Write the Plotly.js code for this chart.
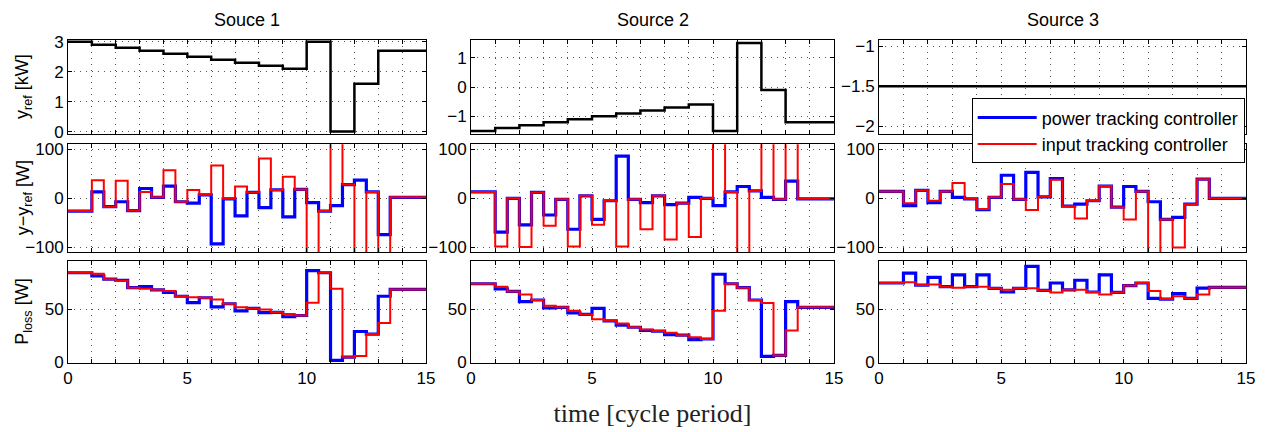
<!DOCTYPE html>
<html>
<head>
<meta charset="utf-8">
<script src="https://cdn.plot.ly/plotly-3.0.1.min.js"></script>
<style>
html,body{margin:0;padding:0;background:#fff;}
#chart{width:1265px;height:432px;}
</style>
</head>
<body>
<div id="chart"></div>
<script>
// ---------------- data ----------------
const sourceTitles = ["Souce 1", "Source 2", "Source 3"];
const tPeriod = [0,1,2,3,4,5,6,7,8,9,10,11,12,13,14,15];
const tHalf = [0,0.5,1,1.5,2,2.5,3,3.5,4,4.5,5,5.5,6,6.5,7,7.5,8,8.5,9,9.5,10,10.5,11,11.5,12,12.5,13,13.5,14,14.5,15];
const xTickVals = [0,5,10,15];
const xTickLabels = ["0","5","10","15"];

// reference power [kW], one value per cycle period
const yref1 = [3.0,2.9,2.8,2.7,2.6,2.5,2.4,2.3,2.2,2.1,3.0,0.0,1.6,2.7,2.7];
const yref2 = [-1.5,-1.4,-1.3,-1.2,-1.1,-1.0,-0.9,-0.8,-0.7,-0.6,-1.5,1.5,-0.1,-1.2,-1.2];
const yref3 = [-1.5,-1.5,-1.5,-1.5,-1.5,-1.5,-1.5,-1.5,-1.5,-1.5,-1.5,-1.5,-1.5,-1.5,-1.5];

// tracking error y - y_ref [W], one value per half period
const err1Power = [-26,-26,13,-17,-7,-25,20,2,25,-7,-10,7,-93,-1,-36,12,-19,17,-38,18,-9,-26,-15,28,37,13,-74,2,2,2];
const err1Input = [-26,-26,37,-17,36,-25,13,2,57,-7,17,7,67,-1,24,12,81,17,44,18,-900,-26,3000,28,-1600,13,-1100,2,2,2];
const err2Power = [13,13,-69,0,-54,12,-34,-2,-63,5,-43,-5,86,-2,-9,5,-13,-10,2,0,-15,13,24,15,2,-2,35,-1,-1,-1];
const err2Input = [13,13,-98,0,-99,12,-56,-2,-98,5,-54,-5,-98,-2,-63,5,-84,-10,-79,0,900,13,-3000,15,1600,-2,1100,-1,-1,-1];
const err3Power = [14,14,-15,16,-9,14,2,-1,-23,2,47,-2,53,3,40,-16,-12,-5,25,-18,24,14,-7,-43,-39,-12,39,0,0,0];
const err3Input = [14,14,-10,16,-5,14,31,-1,-22,2,29,-2,-24,3,38,-16,-41,-5,25,-18,-43,14,-300,-43,-100,-12,39,0,0,0];

// power loss P_loss [W], one value per half period
const loss1Power = [84,84,81,78,77,70,71,68,65.6,62,56,60.6,52,55,48.4,50.6,46.6,47,42.8,44,86,84,2,5,29,26.6,62,68.4,68.4,68.4];
const loss1Input = [84,84,83,78,76.5,70,69,68,67,62,61,60.6,59,55,51.6,50.6,49.7,47,45.3,44,56,84,69,5,6,26.6,37,68.4,68.4,68.4];
const loss2Power = [73.7,73.7,69,66.5,57,58.5,51,51.6,46.5,45,50.6,39,35,33,30,29.4,26,25.6,21.5,22,82.6,73.7,70,58.5,5.7,6.6,57,51.6,51.6,51.6];
const loss2Input = [73.7,73.7,71,66.5,63.6,58.5,53,51.6,48.4,45,40.5,39,36.4,33,31,29.4,27.8,25.6,23.7,22,48.4,73.7,70,58.5,55.7,6.6,30,51.6,51.6,51.6];
const loss3Power = [74.4,74.4,83.7,72.5,79.7,71,82,71,82,69.4,66,69.4,90,67.5,74.4,68,77,66,82,65.6,72,74.4,60,59.4,64.4,60,69.7,70.3,70.3,70.3];
const loss3Input = [74.4,74.4,75,72.5,73,71,70,71,71,69.4,68,69.4,69.4,67.5,65.6,68,68,66,63.7,65.6,72,74.4,67,59.4,62,60,63.7,70.3,70.3,70.3];

const seriesNames = ["power tracking controller", "input tracking controller"];
const yTitles = ["y<sub>ref</sub> [kW]", "y\u2212y<sub>ref</sub> [W]", "P<sub>loss</sub> [W]"];
const xTitle = "time [cycle period]";

// ---------------- layout helpers ----------------
const W = 1265, H = 432;
const colPx = [[68,426],[471,834],[879,1246]];
const rowPx = [[40,134],[144.3,252.3],[261,362.5]];
const xdom = c => [colPx[c][0]/W, colPx[c][1]/W];
const ydom = r => [1 - rowPx[r][1]/H, 1 - rowPx[r][0]/H];

const FONT = "Liberation Sans, Arial, Helvetica, sans-serif";
const BLUE = "#0000ff", RED = "#ff0000";

const yrefs = [yref1, yref2, yref3];
const errs = [[err1Power, err1Input],[err2Power, err2Input],[err3Power, err3Input]];
const losses = [[loss1Power, loss1Input],[loss2Power, loss2Input],[loss3Power, loss3Input]];

const hold = a => a.concat([a[a.length-1]]);
const axId = (r,c) => (r*3 + c + 1);
const sfx = n => (n === 1 ? "" : String(n));

const traces = [];
for (let c = 0; c < 3; c++) {
  const n1 = axId(0,c), n2 = axId(1,c), n3 = axId(2,c);
  traces.push({x: tPeriod, y: hold(yrefs[c]), type: "scatter", mode: "lines",
    line: {shape: "hv", color: "#000", width: 2.5}, xaxis: "x"+sfx(n1), yaxis: "y"+sfx(n1),
    showlegend: false, name: "y_ref"});
  [[errs[c], n2], [losses[c], n3]].forEach(([pair, n], k) => {
    traces.push({x: tHalf, y: hold(pair[0]), type: "scatter", mode: "lines",
      line: {shape: "hv", color: BLUE, width: 3.2}, xaxis: "x"+sfx(n), yaxis: "y"+sfx(n),
      name: seriesNames[0], legendgroup: "p", showlegend: (c===0 && k===0)});
    traces.push({x: tHalf, y: hold(pair[1]), type: "scatter", mode: "lines",
      line: {shape: "hv", color: RED, width: 2}, xaxis: "x"+sfx(n), yaxis: "y"+sfx(n),
      name: seriesNames[1], legendgroup: "i", showlegend: (c===0 && k===0)});
  });
}

const yRanges = [
  [[-0.08,3.06],[-1.6,1.6],[-2.1,-0.92]],
  [[-110,110],[-110,110],[-110,110]],
  [[0,95],[0,95],[0,95]]
];
const yTicks = [
  [[0,1,2,3],[-1,0,1],[-2,-1.5,-1]],
  [[-100,0,100],[-100,0,100],[-100,0,100]],
  [[0,50],[0,50],[0,50]]
];

const GRID = {gridcolor: "#555", gridwidth: 1, griddash: "1px,5px"};

const layout = {
  width: W, height: H,
  margin: {l:0, r:0, t:0, b:0},
  paper_bgcolor: "#fff", plot_bgcolor: "#fff",
  font: {family: FONT, size: 17, color: "#000"},
  showlegend: true,
  legend: {x: 971.7/W, y: 1 - 98.3/H, xanchor: "left", yanchor: "top",
    bgcolor: "#fff", bordercolor: "#000", borderwidth: 1,
    font: {family: FONT, size: 18, color: "#000"}, itemwidth: 59, tracegroupgap: 0},
  annotations: [],
};

const common = Object.assign({showline: true, linecolor: "#000", linewidth: 1, mirror: "ticks",
  ticks: "inside", ticklen: 4, tickwidth: 1, tickcolor: "#000",
  showgrid: true, zeroline: false,
  tickfont: {family: FONT, size: 17, color: "#000"}, fixedrange: true}, GRID);

for (let r = 0; r < 3; r++) {
  for (let c = 0; c < 3; c++) {
    const n = axId(r,c);
    const xa = Object.assign({}, common, {domain: xdom(c), anchor: "y"+sfx(n), range: [0,15],
      tickmode: "array", tickvals: xTickVals, ticktext: xTickLabels, showticklabels: r === 2,
      minor: Object.assign({tickmode: "array", tickvals: tPeriod, ticks: "inside", ticklen: 4,
        tickwidth: 1, tickcolor: "#000", showgrid: true}, GRID)});
    const ya = Object.assign({}, common, {domain: ydom(r), anchor: "x"+sfx(n), range: yRanges[r][c],
      tickmode: "array", tickvals: yTicks[r][c]});
    if (r === 2 && c === 1) {
      xa.title = {text: xTitle, font: {family: "Liberation Serif, Times New Roman, serif", size: 26, color: "#222"}, standoff: 16};
    }
    layout["xaxis"+sfx(n)] = xa;
    layout["yaxis"+sfx(n)] = ya;
  }
}

for (let c = 0; c < 3; c++) {
  layout.annotations.push({text: sourceTitles[c], xref: "paper", yref: "paper",
    x: (colPx[c][0]+colPx[c][1])/2/W, y: 1 - 20/H, xanchor: "center", yanchor: "middle",
    showarrow: false, font: {family: FONT, size: 18, color: "#000"}});
}
for (let r = 0; r < 3; r++) {
  layout.annotations.push({text: yTitles[r], xref: "paper", yref: "paper", textangle: -90,
    x: 24/W, y: 1 - (rowPx[r][0]+rowPx[r][1])/2/H, xanchor: "center", yanchor: "middle",
    showarrow: false, font: {family: FONT, size: 18, color: "#000"}});
}

Plotly.newPlot("chart", traces, layout, {displayModeBar: false, staticPlot: true});
</script>
</body>
</html>
